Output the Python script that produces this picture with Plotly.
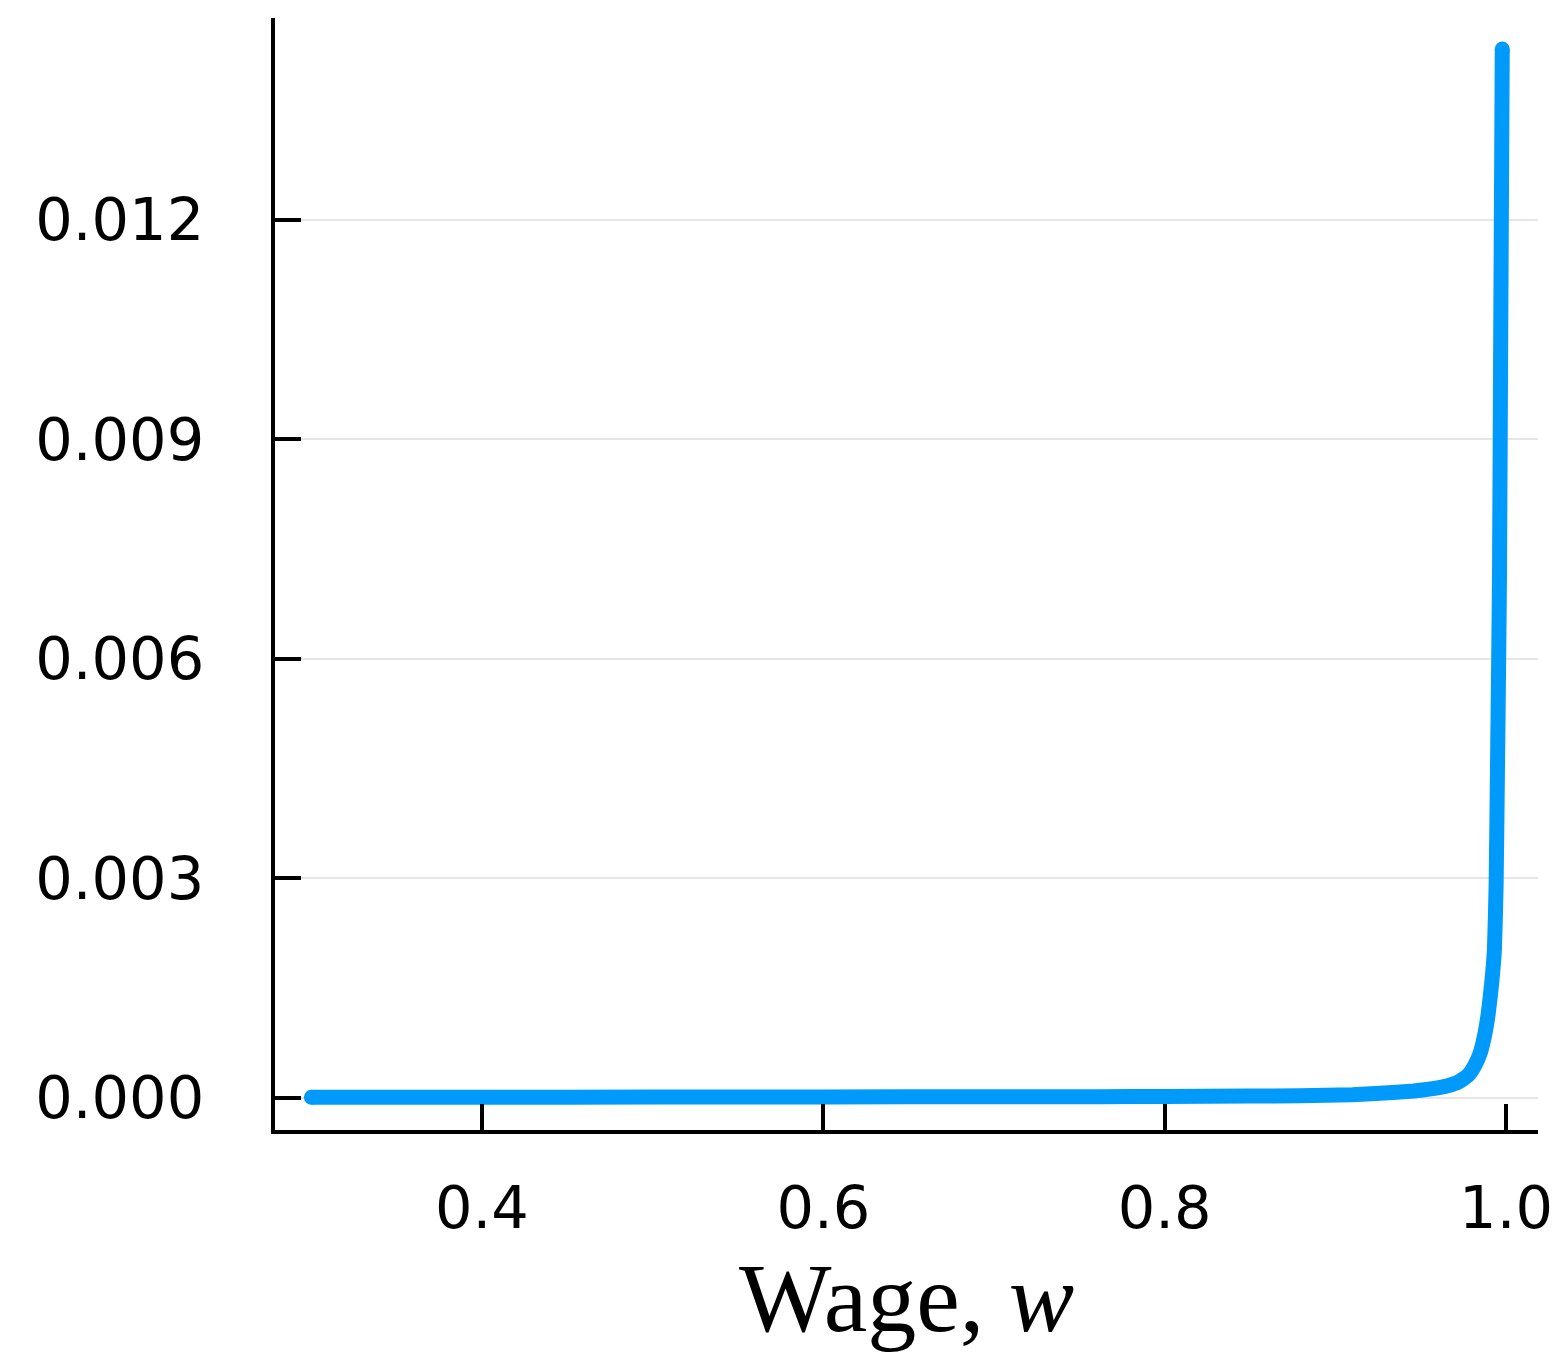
import plotly.graph_objects as go

# Wage grid and density values
wage = [0.300, 0.400, 0.500, 0.600, 0.700, 0.762, 0.800, 0.850, 0.879, 0.910,
        0.9262, 0.9458, 0.9560, 0.9653, 0.9700, 0.9731, 0.9779, 0.9818, 0.9848,
        0.9877, 0.9896, 0.9916, 0.9932, 0.9942, 0.9950, 0.9957, 0.9962, 0.9968,
        0.9978]
density = [0.000003, 0.000004, 0.000006, 0.000008, 0.000010, 0.000012, 0.000015,
           0.000020, 0.000025, 0.000038, 0.000057, 0.000089, 0.000118, 0.000157,
           0.000190, 0.000226, 0.000308, 0.000444, 0.000604, 0.000880, 0.001150,
           0.001560, 0.002020, 0.002900, 0.004500, 0.006000, 0.007200, 0.010000,
           0.014330]

x_ticks = [0.4, 0.6, 0.8, 1.0]
x_ticklabels = ["0.4", "0.6", "0.8", "1.0"]
y_ticks = [0.0, 0.003, 0.006, 0.009, 0.012]
y_ticklabels = ["0.000", "0.003", "0.006", "0.009", "0.012"]

x_range = [0.27871, 1.01874]
y_range = [-0.000444, 0.014754]

BLUE = "#009AFA"

fig = go.Figure()
fig.add_trace(go.Scatter(
    x=wage, y=density, mode="lines",
    line=dict(color=BLUE, width=15, shape="spline", smoothing=0.4),
    hoverinfo="skip", showlegend=False,
))
# round end caps
fig.add_trace(go.Scatter(
    x=[wage[0], wage[-1]], y=[density[0], density[-1]], mode="markers",
    marker=dict(color=BLUE, size=15, line=dict(width=0)),
    hoverinfo="skip", showlegend=False,
))

tick_font = dict(family="DejaVu Sans", size=59, color="black")

fig.update_layout(
    width=1558, height=1352,
    margin=dict(l=275, r=20, t=18, b=222, autoexpand=False),
    paper_bgcolor="white", plot_bgcolor="white",
    xaxis=dict(
        range=x_range, tickvals=x_ticks, ticktext=x_ticklabels,
        showgrid=False, zeroline=False, automargin=False,
        showline=True, linecolor="black", linewidth=4,
        ticks="inside", ticklen=26, tickwidth=4, tickcolor="black",
        tickfont=tick_font, ticklabelstandoff=23,
        title=dict(text="Wage, <i>w</i>",
                   font=dict(family="Liberation Serif", size=98, color="black"),
                   standoff=33),
    ),
    yaxis=dict(
        range=y_range, tickvals=y_ticks, ticktext=y_ticklabels,
        showgrid=True, gridcolor="#e6e6e6", gridwidth=2, zeroline=False,
        automargin=False,
        showline=True, linecolor="black", linewidth=4,
        ticks="inside", ticklen=26, tickwidth=4, tickcolor="black",
        tickfont=tick_font, ticklabelstandoff=55,
    ),
)

fig.write_html("out.html")
